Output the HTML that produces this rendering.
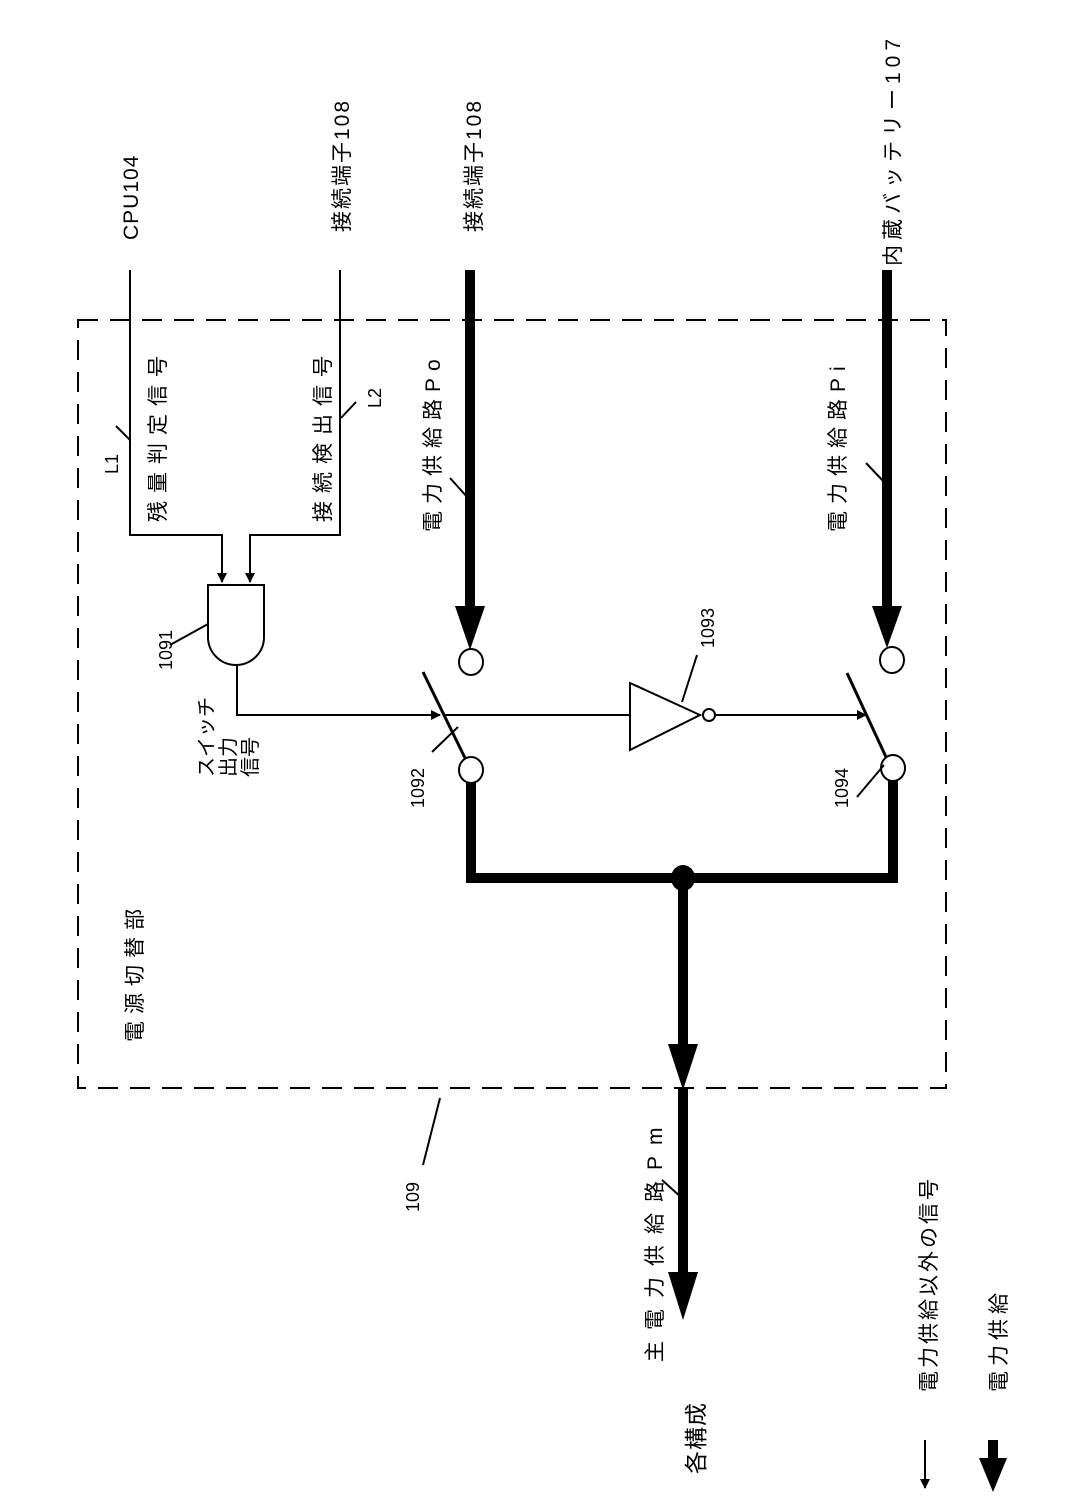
<!DOCTYPE html>
<html><head><meta charset="utf-8"><style>
html,body{margin:0;padding:0;background:#fff}
svg{display:block}
text{font-family:"Liberation Sans","Noto Sans CJK JP",sans-serif;fill:#000}
</style></head><body>
<svg width="1071" height="1496" viewBox="0 0 1071 1496" xmlns="http://www.w3.org/2000/svg">
<defs>
<marker id="ta" markerWidth="10" markerHeight="10" refX="9" refY="5" orient="auto" markerUnits="userSpaceOnUse"><path d="M0,0 L10,5 L0,10 Z" fill="#000"/></marker>
</defs>
<rect x="78" y="320" width="868" height="768" fill="none" stroke="#000" stroke-width="2" stroke-dasharray="20,12"/>

<polyline points="130,270 130,535 222,535 222,582" fill="none" stroke="#000" stroke-width="2" marker-end="url(#ta)"/>
<polyline points="340,270 340,535 250,535 250,582" fill="none" stroke="#000" stroke-width="2" marker-end="url(#ta)"/>
<path d="M208,585 H264 V637 A28,28 0 0 1 208,637 Z" fill="#fff" stroke="#000" stroke-width="2"/>
<polyline points="237,665 237,715 440,715" fill="none" stroke="#000" stroke-width="2" marker-end="url(#ta)"/>
<line x1="445" y1="715" x2="630" y2="715" stroke="#000" stroke-width="2"/>
<path d="M630,683 L630,750 L700,715 Z" fill="#fff" stroke="#000" stroke-width="2"/>
<circle cx="709" cy="715" r="6" fill="#fff" stroke="#000" stroke-width="2"/>
<line x1="715" y1="715" x2="866" y2="715" stroke="#000" stroke-width="2" marker-end="url(#ta)"/>

<line x1="470" y1="270" x2="470" y2="612" stroke="#000" stroke-width="10"/>
<path d="M455,606 L485,606 L470,650 Z" fill="#000"/>
<line x1="887" y1="270" x2="887" y2="612" stroke="#000" stroke-width="10"/>
<path d="M872,606 L902,606 L887,648 Z" fill="#000"/>
<ellipse cx="471" cy="662" rx="12" ry="13" fill="#fff" stroke="#000" stroke-width="2"/>
<ellipse cx="892" cy="660" rx="12" ry="13" fill="#fff" stroke="#000" stroke-width="2"/>
<line x1="423" y1="672" x2="465" y2="758" stroke="#000" stroke-width="3"/>
<line x1="847" y1="673" x2="886" y2="757" stroke="#000" stroke-width="3"/>
<polyline points="471,783 471,878 893,878 893,781" fill="none" stroke="#000" stroke-width="10"/>
<ellipse cx="471" cy="770" rx="12" ry="13" fill="#fff" stroke="#000" stroke-width="2"/>
<ellipse cx="893" cy="768" rx="12" ry="13" fill="#fff" stroke="#000" stroke-width="2"/>
<ellipse cx="683" cy="878" rx="12" ry="13" fill="#000"/>
<line x1="683" y1="878" x2="683" y2="1050" stroke="#000" stroke-width="10"/>
<path d="M668,1044 L698,1044 L683,1090 Z" fill="#000"/>
<line x1="683" y1="1088" x2="683" y2="1278" stroke="#000" stroke-width="10"/>
<path d="M668,1272 L698,1272 L683,1320 Z" fill="#000"/>

<g stroke="#000" stroke-width="2">
<line x1="116" y1="426" x2="130" y2="440"/>
<line x1="356" y1="402" x2="341" y2="418"/>
<line x1="450" y1="478" x2="468" y2="498"/>
<line x1="866" y1="463" x2="886" y2="484"/>
<line x1="170" y1="645" x2="208" y2="624"/>
<line x1="682" y1="702" x2="697" y2="655"/>
<line x1="432" y1="752" x2="458" y2="727"/>
<line x1="857" y1="797" x2="884" y2="765"/>
<line x1="423" y1="1165" x2="440" y2="1098"/>
<line x1="662" y1="1180" x2="682" y2="1198"/>
</g>

<line x1="925" y1="1440" x2="925" y2="1488" stroke="#000" stroke-width="2" marker-end="url(#ta)"/>
<line x1="993" y1="1440" x2="993" y2="1460" stroke="#000" stroke-width="10"/>
<path d="M979,1458 L1007,1458 L993,1492 Z" fill="#000"/>

<g font-size="21">
<text transform="translate(138,240) rotate(-90)" letter-spacing="1">CPU104</text>
<text transform="translate(349,232) rotate(-90)" letter-spacing="2">接続端子108</text>
<text transform="translate(481,232) rotate(-90)" letter-spacing="2">接続端子108</text>
<text transform="translate(900,266) rotate(-90)" letter-spacing="5">内蔵バッテリー107</text>
<text transform="translate(165,522) rotate(-90)" letter-spacing="8">残量判定信号</text>
<text transform="translate(330,522) rotate(-90)" letter-spacing="8">接続検出信号</text>
<text transform="translate(440,532) rotate(-90)" letter-spacing="7">電力供給路Po</text>
<text transform="translate(845,532) rotate(-90)" letter-spacing="7">電力供給路Pi</text>
<text transform="translate(142,1042) rotate(-90)" letter-spacing="7">電源切替部</text>
<text transform="translate(662,1362) rotate(-90)" letter-spacing="11">主電力供給路Pm</text>
<text transform="translate(704,1474) rotate(-90)" font-size="23" letter-spacing="1">各構成</text>
<text transform="translate(936,1392) rotate(-90)" letter-spacing="3">電力供給以外の信号</text>
<text transform="translate(1006,1392) rotate(-90)" letter-spacing="5">電力供給</text>
<text transform="translate(213,777) rotate(-90)" font-size="20">スイッチ</text>
<text transform="translate(235,777) rotate(-90)" font-size="20">出力</text>
<text transform="translate(257,777) rotate(-90)" font-size="20">信号</text>
</g>
<g font-size="18">
<text transform="translate(118,474) rotate(-90)">L1</text>
<text transform="translate(381,408) rotate(-90)">L2</text>
<text transform="translate(172,670) rotate(-90)">1091</text>
<text transform="translate(424,808) rotate(-90)">1092</text>
<text transform="translate(714,648) rotate(-90)">1093</text>
<text transform="translate(848,808) rotate(-90)">1094</text>
<text transform="translate(419,1212) rotate(-90)">109</text>
</g>
</svg>
</body></html>
